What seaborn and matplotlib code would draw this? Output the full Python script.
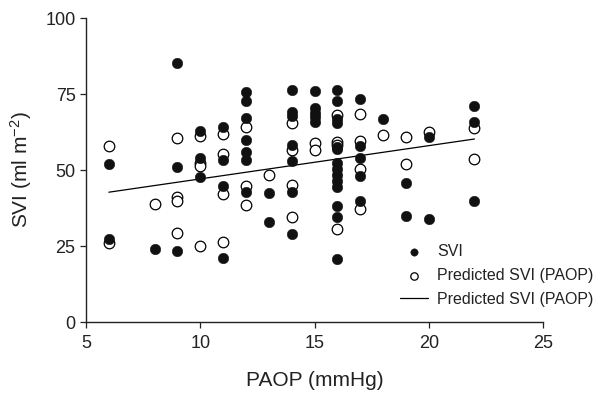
import numpy as np
import pandas as pd
import matplotlib
matplotlib.use("Agg")
import matplotlib.pyplot as plt
import seaborn as sns

# ---- data ----
svi_x = [6, 6, 8, 9, 9, 9, 10, 10, 10, 11, 11, 11, 11,
         12, 12, 12, 12, 12, 12, 12, 13, 13,
         14, 14, 14, 14, 14, 14, 14,
         15, 15, 15, 15, 15,
         16, 16, 16, 16, 16, 16, 16, 16, 16, 16, 16, 16, 16, 16,
         17, 17, 17, 17, 17, 18, 19, 19, 20, 20, 22, 22, 22]
svi_y = [51.9, 27.3, 23.9, 85.1, 51.0, 23.5, 62.9, 54.0, 47.8, 64.3, 53.3, 44.7, 20.9,
         75.8, 72.8, 67.0, 59.9, 56.0, 53.3, 42.7, 42.5, 33.0,
         76.3, 69.2, 67.8, 58.2, 53.1, 42.9, 28.8,
         76.1, 70.3, 68.6, 67.3, 65.9,
         76.3, 72.8, 66.7, 65.3, 56.8, 52.2, 50.2, 48.2, 46.3, 44.3, 38.2, 34.6, 20.7, 57.5,
         73.2, 57.9, 53.8, 47.9, 39.9, 66.9, 45.8, 35.0, 60.8, 33.8, 71.1, 65.9, 39.8]

pred_x = [6, 6, 8, 9, 9, 9, 9, 10, 10, 10, 10, 11, 11, 11, 11,
          12, 12, 12, 13, 14, 14, 14, 14, 15, 15,
          16, 16, 16, 16, 17, 17, 17, 17, 18, 19, 19, 20, 22, 22]
pred_y = [57.9, 25.9, 38.7, 60.5, 41.2, 39.8, 29.4, 61.2, 52.4, 51.2, 25.0, 62.0, 55.3, 42.1, 26.4,
          64.2, 44.7, 38.5, 48.4, 65.6, 56.6, 45.1, 34.6, 58.8, 56.6,
          68.1, 59.3, 58.2, 30.6, 68.4, 59.5, 50.2, 37.1, 61.4, 61.0, 51.9, 62.4, 63.7, 53.5]

line_x = [6, 22]
line_y = [42.7, 60.2]

x_ticks = [5, 10, 15, 20, 25]
y_ticks = [0, 25, 50, 75, 100]

labels = ["SVI", "Predicted SVI (PAOP)", "Predicted SVI (PAOP)"]

# ---- style ----
sns.set_style("ticks")
plt.rcParams["font.family"] = ["Liberation Sans", "DejaVu Sans"]
plt.rcParams["mathtext.fontset"] = "custom"
plt.rcParams["mathtext.rm"] = "Liberation Sans"
plt.rcParams["mathtext.it"] = "Liberation Sans"

fig = plt.figure(figsize=(5.96, 3.94), dpi=100)
ax = fig.add_axes([0.1443, 0.1827, 0.7668, 0.7716])

df_svi = pd.DataFrame({"x": svi_x, "y": svi_y})
df_pred = pd.DataFrame({"x": pred_x, "y": pred_y})
df_line = pd.DataFrame({"x": line_x, "y": line_y})

sns.lineplot(data=df_line, x="x", y="y", ax=ax, color="black", linewidth=0.9,
             label=labels[2], zorder=1)
sns.scatterplot(data=df_pred, x="x", y="y", ax=ax, s=58, facecolor="white",
                edgecolor="black", linewidth=0.9, label=labels[1], zorder=2)
sns.scatterplot(data=df_svi, x="x", y="y", ax=ax, s=58, color="#111111",
                edgecolor="#111111", linewidth=0.3, label=labels[0], zorder=3)

ax.set_xlim(5, 25)
ax.set_ylim(0, 100)
ax.set_xticks(x_ticks)
ax.set_yticks(y_ticks)
ax.tick_params(axis="both", labelsize=13, length=4, width=0.9, direction="out",
               color="#222222", labelcolor="#222222")
ax.tick_params(axis="x", pad=5)
for side in ["top", "right"]:
    ax.spines[side].set_visible(False)
for side in ["left", "bottom"]:
    ax.spines[side].set_linewidth(1.0)
    ax.spines[side].set_color("#222222")

ax.set_xlabel("PAOP (mmHg)", fontsize=15, color="#222222", labelpad=14)
ax.set_ylabel(r"SVI (ml m$^{-2}$)", fontsize=15, color="#222222", labelpad=8)

h, l = ax.get_legend_handles_labels()
# handles in drawing order: line, pred, svi
handles = [h[2], h[1], h[0]]
leg = ax.legend(handles, labels, frameon=False, fontsize=11.5, markerscale=0.7,
                handlelength=1.75, handletextpad=0.6, labelspacing=0.55,
                borderpad=0, borderaxespad=0, loc="upper left",
                bbox_to_anchor=(0.671, 0.38), bbox_transform=fig.transFigure)
for t in leg.get_texts():
    t.set_color("#222222")

fig.savefig("out.png", dpi=100)
